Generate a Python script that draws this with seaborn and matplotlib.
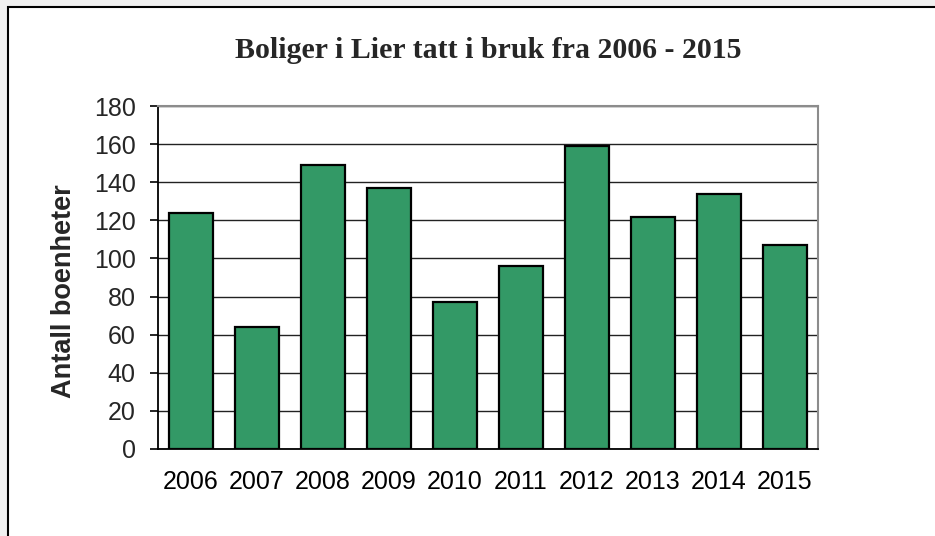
import numpy as np
import pandas as pd
import seaborn as sns
import matplotlib.pyplot as plt
from matplotlib.patches import Rectangle

# Data
years = ['2006', '2007', '2008', '2009', '2010', '2011', '2012', '2013', '2014', '2015']
boliger = [124, 64, 149, 137, 77, 96, 159, 122, 134, 107]

df = pd.DataFrame({'aar': years, 'antall': boliger})

sns.set_style('white')
plt.rcParams['font.family'] = ['Liberation Sans', 'DejaVu Sans']

fig = plt.figure(figsize=(9.35, 5.36), dpi=100)

# outer frame like the screenshot
fig.patches.append(Rectangle((0, 0), 1, 1, transform=fig.transFigure,
                             facecolor='#f0f0f0', edgecolor='none', zorder=-10))
fig.patches.append(Rectangle((8 / 935, -0.1), 1.2, 1.1 - 7 / 536, transform=fig.transFigure,
                             facecolor='white', edgecolor='black', linewidth=1.5, zorder=-9))

ax = fig.add_axes([158 / 935, 1 - 449 / 536, 660 / 935, 343 / 536])
ax.set_facecolor('none')

sns.barplot(data=df, x='aar', y='antall', color='#339966', saturation=1,
            width=0.67, edgecolor='black', linewidth=1.6, ax=ax, zorder=3)

ax.set_ylim(0, 180)
ax.set_xlim(-0.5, len(years) - 0.5)
ax.set_yticks(np.arange(0, 181, 20))
ax.yaxis.grid(True, color='#222222', linewidth=1.0, zorder=0)
ax.set_axisbelow(True)

# ticks at category boundaries
ax.set_xticks(np.arange(-0.5, len(years), 1), minor=True)
ax.tick_params(axis='x', which='major', length=0, pad=15, labelsize=18, colors='black')
ax.tick_params(axis='x', which='minor', length=6, width=1.2, color='black', direction='out')
ax.tick_params(axis='y', length=6, width=1.2, color='black', direction='out',
               left=True, pad=10, labelsize=18)

for side in ['left', 'bottom']:
    ax.spines[side].set_color('black')
    ax.spines[side].set_linewidth(1.3)
for side in ['top', 'right']:
    ax.spines[side].set_visible(True)
    ax.spines[side].set_color('#8c8c8c')
    ax.spines[side].set_linewidth(1.5)

ax.set_xlabel('')
ax.set_ylabel('')
fig.text(64 / 935, 1 - 291 / 536, 'Antall boenheter', rotation=90,
         ha='center', va='center', fontsize=19.5, fontweight='bold')

fig.text(488 / 935, 1 - 51 / 536, 'Boliger i Lier tatt i bruk fra 2006 - 2015',
         ha='center', va='center', fontsize=21.5, fontweight='bold',
         family=['Liberation Serif', 'DejaVu Serif'])

fig.savefig('out.png', dpi=100)
